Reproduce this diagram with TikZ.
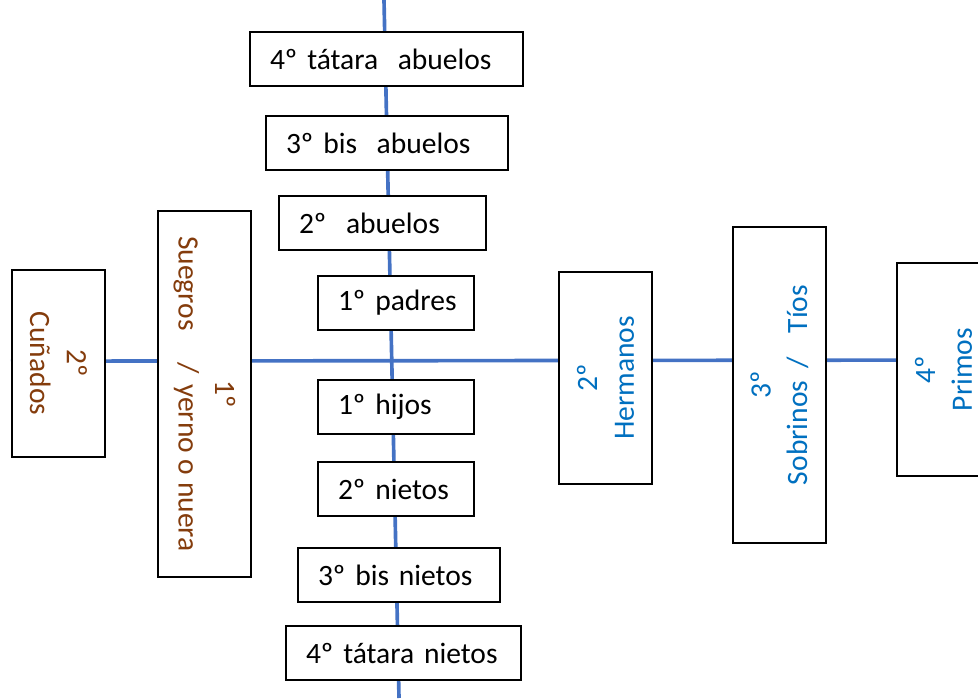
\documentclass[tikz,border=0pt]{standalone}
\usepackage{fontspec}
\setmainfont{Carlito}
\definecolor{linea}{HTML}{4472C4}
\definecolor{azul}{HTML}{0070C0}
\definecolor{marron}{HTML}{843C0C}

\begin{document}
\begin{tikzpicture}[
  caja/.style={draw=black, line width=0.8pt, fill=white, minimum height=1.35cm,
    inner xsep=0.5cm, align=left, font=\fontsize{21}{26}\selectfont},
  lado/.style={draw=black, line width=0.8pt, fill=white, minimum height=2.325cm,
    inner sep=0pt, align=center, font=\fontsize{21}{26}\selectfont},
  rama/.style={line width=2.6pt, color=linea}]
\clip (0,0) rectangle (24.45,17.45);
% vertical line
\coordinate (arriba) at (9.6,17.45);
\coordinate (abajo) at (9.975,0);
\draw[rama] (arriba) -- (abajo);
% horizontal line
\coordinate (izq) at (0.275,8.42);
\coordinate (der) at (24.45,8.45);
\draw[rama] (izq) -- (der);

% ascendientes
\node[caja, text width=5.825cm] (tatabu) at (9.6625,15.975) {4º~tátara~~abuelos};
\node[caja, text width=5.05cm] (bisabu) at (9.675,13.875) {3º~bis~~abuelos};
\node[caja, text width=4.175cm] (abu) at (9.5625,11.875) {2º~~abuelos};
\node[caja, text width=2.9cm] (padres) at (9.9,9.875) {1º~padres};
% descendientes
\node[caja, text width=2.9cm] (hijos) at (9.9,7.275) {1º~hijos};
\node[caja, text width=2.9cm] (nietos) at (9.9,5.225) {2º~nietos};
\node[caja, text width=4.05cm] (bisnietos) at (9.975,3.075) {3º~bis~nietos};
\node[caja, text width=4.875cm] (tatnietos) at (10.0875,1.125) {4º~tátara~nietos};

% lado izquierdo
\node[lado, rotate=-90, minimum width=4.675cm, text=marron] (cunados) at (1.4625,8.3625) {2º\\Cuñados};
\node[lado, rotate=-90, minimum width=9.15cm, text=marron] (suegros) at (5.1125,7.6)
  {1º\\Suegros\hspace{0.8cm}/\hspace{0.25cm}yerno o nuera};
% lado derecho
\node[lado, rotate=90, minimum width=5.3cm, text=azul] (hermanos) at (15.1375,8.0) {2º\\Hermanos};
\node[lado, rotate=90, minimum width=7.9cm, text=azul] (sobrinos) at (19.4875,7.825)
  {3º\\Sobrinos\hspace{0.3cm}/\hspace{0.6cm}Tíos};
\node[lado, rotate=90, minimum width=5.325cm, text=azul] (primos) at (23.5875,8.2125) {4º\\Primos};

\end{tikzpicture}
\end{document}
